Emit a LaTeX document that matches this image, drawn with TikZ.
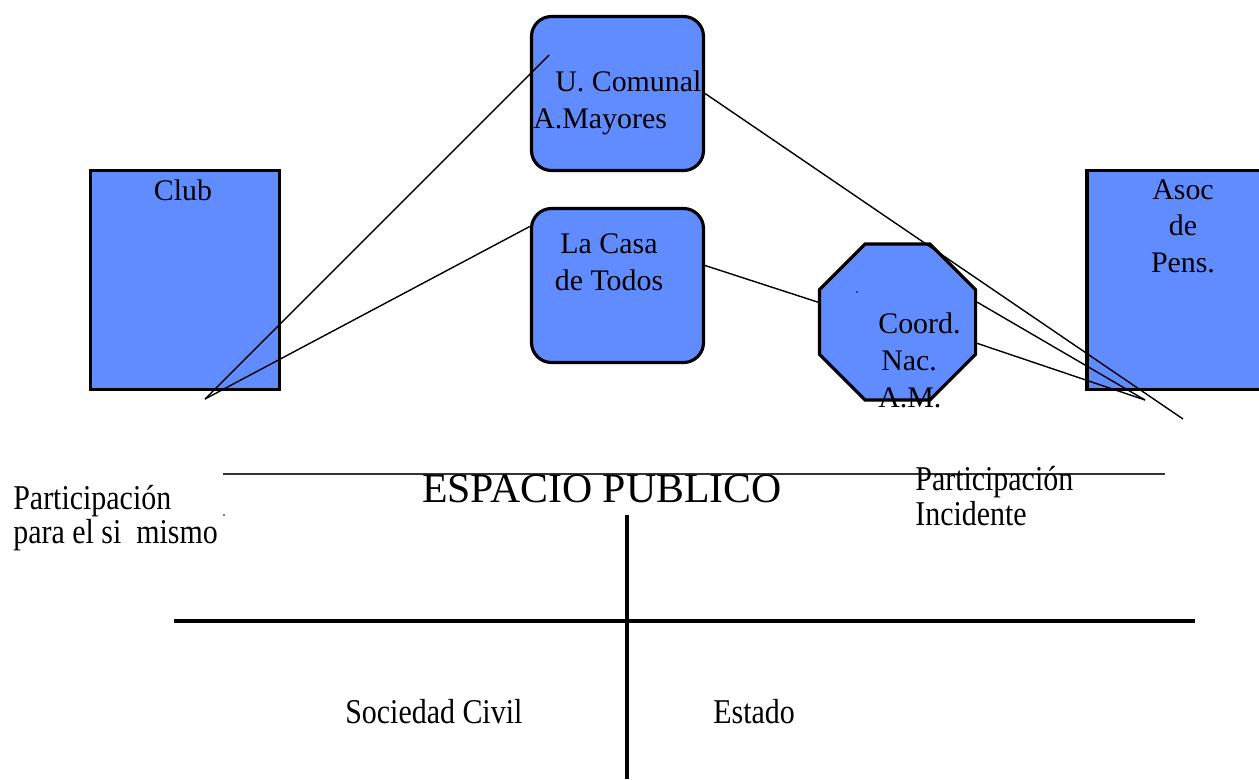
\documentclass[tikz,border=0pt]{standalone}
\usepackage{fontspec}
\setmainfont{Liberation Serif}
\newfontfamily\narrowserif[FakeStretch=0.86]{Liberation Serif}
\usetikzlibrary{shapes.geometric}
\definecolor{boxblue}{RGB}{96,140,255}

\begin{document}
\begin{tikzpicture}[x=0.2mm, y=-0.2mm,
    org/.style={rectangle, draw, line width=1.8pt, fill=boxblue},
    orground/.style={org, rounded corners=4mm, minimum width=34.4mm, minimum height=30.8mm},
    boxtext/.style={inner sep=0pt, font=\fontsize{17}{20.7}\selectfont},
    sidetext/.style={inner sep=0pt, align=left, font=\narrowserif\fontsize{19.8}{17.6}\selectfont},
    link/.style={line width=0.8pt},
    eje/.style={line width=2.3pt}
]
    \useasboundingbox (0,0) rectangle (1259,779);
    \clip (0,0) rectangle (1259,779);

    % Organizaciones
    \node[org, minimum width=37.8mm, minimum height=43.8mm] (club) at (185,280) {};
    \node[orground] (comunal) at (617.5,93.5) {};
    \node[orground] (casa) at (617.5,285.5) {};
    \node[regular polygon, regular polygon sides=8, draw, line width=1.8pt, fill=boxblue,
          minimum size=33.8mm, inner sep=0pt] (coord) at (897.5,322) {};
    \node[org, minimum width=39.2mm, minimum height=43.8mm] (asoc) at (1185,280) {};

    % textos (ancla en la ultima linea)
    \node[boxtext, anchor=base] (clubtxt) at (183,200) {Club};
    \node[boxtext, anchor=base west, align=left] (comunaltxt) at (533,128) {\hspace{4.4mm}U. Comunal\\A.Mayores};
    \node[boxtext, anchor=base, align=center] (casatxt) at (609,290) {La Casa\\de Todos};
    \node[boxtext, anchor=base west, align=left, font=\fontsize{17}{21}\selectfont] (coordtxt) at (878,407) {Coord.\\\hspace{0.6mm}Nac.\\A.M.};
    \node[boxtext, anchor=base, align=center] (asoctxt) at (1183,272) {Asoc\\de\\Pens.};

    % Vinculos
    \coordinate (clubpie) at (205,399);
    \coordinate (comunalin) at (549,55);
    \coordinate (asocpie) at (1145,400);
    \coordinate (asocfin) at (1183,419);
    \draw[link] (clubpie) -- (comunalin);
    \draw[link] (clubpie) -- ([yshift=-3.9mm]casa.north west);
    \draw[link] (comunal.east) -- (asocfin);
    \draw[link] ([yshift=4mm]casa.east) -- (coord.166);
    \draw[link] (coord.14) -- (asocpie);
    \draw[link] (coord.-15) -- (asocpie);
    \fill (857,292) circle (0.5pt);

    % Espacio publico
    \coordinate (espizq) at (223,474);
    \coordinate (espder) at (1165,474);
    \draw[line width=1.1pt, black!80] (espizq) -- (espder);
    \node[anchor=base, inner sep=0pt, font=\fontsize{23.8}{28}\selectfont] (espacio) at (602,502) {ESPACIO PUBLICO};
    \node[sidetext, anchor=base west] (simismo) at (13,543) {Participación\\para el si\ \ mismo};
    \node[sidetext, anchor=base west, font=\narrowserif\fontsize{19.8}{19.8}\selectfont] (incidente) at (915,525) {Participación\\Incidente};
    \fill (224,515) circle (0.5pt);

    % Ejes
    \coordinate (ejeizq) at (174,621);
    \coordinate (ejeder) at (1195,621);
    \coordinate (ejearr) at (627,515);
    \coordinate (ejeab) at (627,779);
    \draw[eje] (ejeizq) -- (ejeder);
    \draw[eje] (ejearr) -- (ejeab);
    \node[sidetext, anchor=base west] (civil) at (345,723) {Sociedad Civil};
    \node[sidetext, anchor=base west] (estado) at (713,723) {Estado};
\end{tikzpicture}
\end{document}
